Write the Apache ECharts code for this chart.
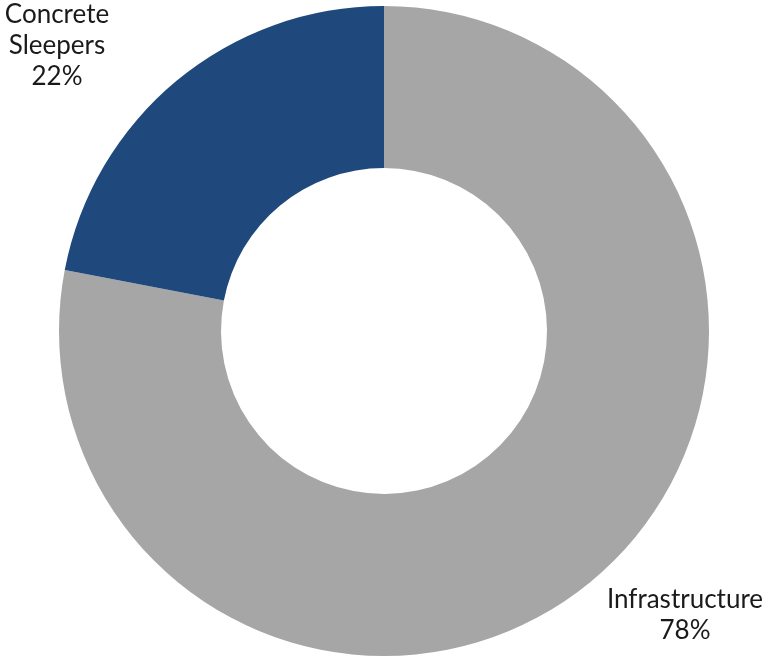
<!DOCTYPE html>
<html>
<head>
<meta charset="utf-8">
<script src="https://cdn.jsdelivr.net/npm/echarts@6/dist/echarts.min.js"></script>
<style>
  html, body { margin: 0; padding: 0; background: #fff; }
  #chart { width: 768px; height: 657px; }
</style>
</head>
<body>
<div id="chart"></div>
<script>
// Share of segments (percent)
const categories = ['Infrastructure', 'Concrete Sleepers'];
const shares = [78, 22];
const colors = ['#A6A6A6', '#1F497D'];

// Label anchor points for each slice, in pixels
const labelSpots = [
  { x: 685, y: 615 },
  { x: 57, y: 46 }
];

const chart = echarts.init(document.getElementById('chart'), null, { renderer: 'canvas' });

chart.setOption({
  animation: false,
  backgroundColor: '#ffffff',
  series: [{
    type: 'pie',
    center: [384, 331],
    radius: [163, 325],
    startAngle: 90,
    clockwise: true,
    avoidLabelOverlap: false,
    data: categories.map((name, i) => ({
      name,
      value: shares[i],
      itemStyle: { color: colors[i] }
    })),
    label: {
      show: true,
      position: 'outside',
      formatter: p => {
        const name = p.name === 'Concrete Sleepers' ? 'Concrete\nSleepers' : p.name;
        return name + '\n' + p.value + '%';
      },
      color: '#1a1a1a',
      fontFamily: 'Lato, "Open Sans", sans-serif',
      fontSize: 26,
      lineHeight: 31,
      align: 'center'
    },
    labelLine: { show: false },
    labelLayout: params => {
      const spot = labelSpots[params.dataIndex];
      return { x: spot.x, y: spot.y, align: 'center', verticalAlign: 'middle' };
    },
    emphasis: { disabled: true }
  }]
});
</script>
</body>
</html>
